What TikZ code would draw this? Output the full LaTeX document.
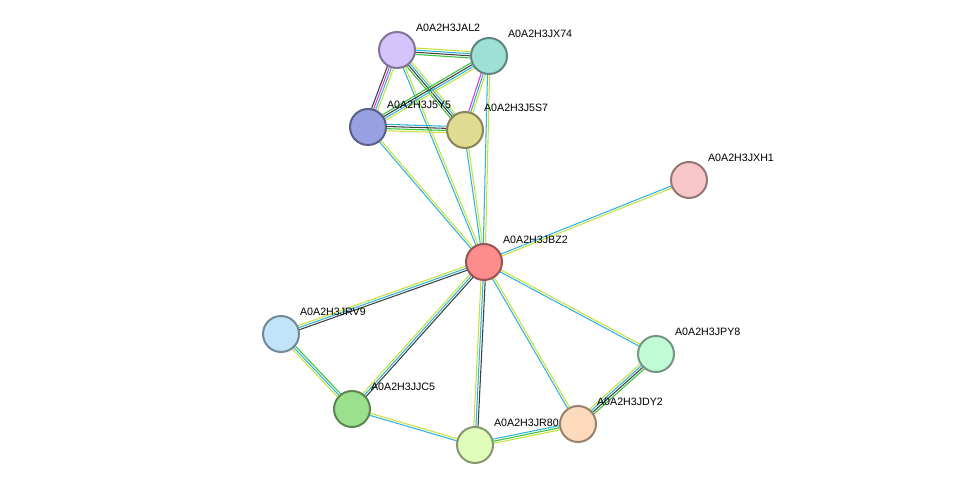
\documentclass[tikz,border=0pt]{standalone}
\usepackage{fontspec}
\setmainfont{Liberation Sans}
\usetikzlibrary{calc}
\definecolor{txm}{HTML}{C8E03A}
\definecolor{dbs}{HTML}{2FB4DC}
\definecolor{exp}{HTML}{E13CD6}
\definecolor{nbh}{HTML}{3AC23A}
\definecolor{cex}{HTML}{404040}
\tikzset{
  prot/.style = {
    circle,
    draw = #1!60!black,
    fill = #1,
    line width = 1.5pt,
    minimum size = 27pt,
    inner sep = 0
  },
  % small text beside each protein
  lbl/.style = {
    font = \fontsize{8}{9}\selectfont,
    anchor = south west,
    inner sep = 1pt,
    xshift = 6pt
  }
}
% edge drawn as parallel coloured lines
\newcommand{\linkpair}[4]{%
  \foreach \c [count=\i] in {#4} {
    \pgfmathsetmacro{\off}{(\i-(#3+1)/2)*1.6}
    \draw[\c, line width=0.8pt]
      ($(#1)!\off pt!90:(#2)$) -- ($(#2)!\off pt!-90:(#1)$);
  }
}
\definecolor{cJAL}{HTML}{D4C4FB}
\definecolor{cJX}{HTML}{9FE0D6}
\definecolor{cJY}{HTML}{97A0E0}
\definecolor{cJS}{HTML}{DFDC92}
\definecolor{cXH}{HTML}{F7C6C6}
\definecolor{cBZ}{HTML}{FD8C8C}
\definecolor{cRV}{HTML}{C1E4FB}
\definecolor{cPY}{HTML}{C1FBD6}
\definecolor{cJC}{HTML}{9BE08D}
\definecolor{cDY}{HTML}{FCDABB}
\definecolor{cR8}{HTML}{E1FDBA}
\begin{document}
\begin{tikzpicture}[x=0.75pt, y=-0.75pt]
  \useasboundingbox (0,0) rectangle (976,491);
  \coordinate (jal) at (397,50);
  \coordinate (jx) at (489,56);
  \coordinate (jy) at (368,127);
  \coordinate (js) at (465,130);
  \coordinate (xh) at (689,180);
  \coordinate (bz) at (484,262);
  \coordinate (rv) at (281,334);
  \coordinate (py) at (656,354);
  \coordinate (jc) at (352,409);
  \coordinate (dy) at (578,424);
  \coordinate (r8) at (475,445);

  \linkpair{jal}{jx}{4}{nbh,cex,dbs,txm}
  \linkpair{jal}{jy}{4}{cex,exp,dbs,txm}
  \linkpair{jal}{js}{4}{nbh,cex,dbs,txm}
  \linkpair{jal}{bz}{2}{dbs,txm}
  \linkpair{jx}{jy}{4}{nbh,cex,dbs,txm}
  \linkpair{jx}{js}{3}{exp,dbs,txm}
  \linkpair{jx}{bz}{2}{dbs,txm}
  \linkpair{jy}{js}{4}{txm,nbh,cex,dbs}
  \linkpair{jy}{bz}{2}{dbs,txm}
  \linkpair{js}{bz}{2}{dbs,txm}
  \linkpair{xh}{bz}{2}{dbs,txm}
  \linkpair{bz}{rv}{3}{txm,dbs,cex}
  \linkpair{bz}{jc}{3}{txm,dbs,cex}
  \linkpair{bz}{r8}{3}{txm,dbs,cex}
  \linkpair{bz}{dy}{2}{dbs,txm}
  \linkpair{bz}{py}{2}{dbs,txm}
  \linkpair{rv}{jc}{3}{txm,dbs,nbh}
  \linkpair{jc}{r8}{2}{dbs,txm}
  \linkpair{r8}{dy}{3}{txm,nbh,dbs}
  \linkpair{dy}{py}{4}{nbh,cex,dbs,txm}

  \node[prot=cJAL, label={[lbl]60:A0A2H3JAL2}] (JAL2) at (jal) {};
  \node[prot=cJX, label={[lbl]60:A0A2H3JX74}] (JX74) at (jx) {};
  \node[prot=cJY, label={[lbl]60:A0A2H3J5Y5}] (J5Y5) at (jy) {};
  \node[prot=cJS, label={[lbl]60:A0A2H3J5S7}] (J5S7) at (js) {};
  \node[prot=cXH, label={[lbl]60:A0A2H3JXH1}] (JXH1) at (xh) {};
  \node[prot=cBZ, label={[lbl]60:A0A2H3JBZ2}] (JBZ2) at (bz) {};
  \node[prot=cRV, label={[lbl]60:A0A2H3JRV9}] (JRV9) at (rv) {};
  \node[prot=cPY, label={[lbl]60:A0A2H3JPY8}] (JPY8) at (py) {};
  \node[prot=cJC, label={[lbl]60:A0A2H3JJC5}] (JJC5) at (jc) {};
  \node[prot=cDY, label={[lbl]60:A0A2H3JDY2}] (JDY2) at (dy) {};
  \node[prot=cR8, label={[lbl]60:A0A2H3JR80}] (JR80) at (r8) {};
\end{tikzpicture}
\end{document}
